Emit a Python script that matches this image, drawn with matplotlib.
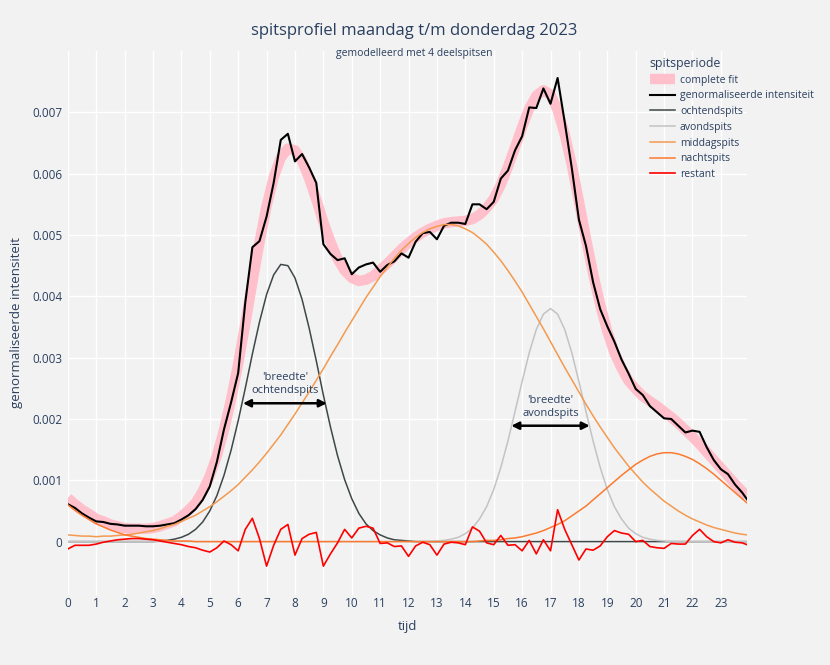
import numpy as np
import matplotlib
matplotlib.use('Agg')
import matplotlib.pyplot as plt
from matplotlib.ticker import FuncFormatter

plt.rcParams['font.family'] = ['Open Sans', 'DejaVu Sans']

# tijd in uren (kwartierwaarden), intensiteiten in eenheden van 1e-5
tijd = np.append(np.arange(0, 24, 0.25), 23.92)

ochtendspits = [0, 0, 0, 0, 0, 0, 0, 0, 0, 0, 0, 0,
                0, 1, 2, 4, 7, 12, 20, 32, 50, 75, 108, 149,
                197, 250, 306, 358, 403, 435, 452, 450, 430, 395, 348, 295,
                239, 187, 140, 101, 70, 46, 29, 18, 11, 6, 3, 2,
                1, 0, 0, 0, 0, 0, 0, 0, 0, 0, 0, 0,
                0, 0, 0, 0, 0, 0, 0, 0, 0, 0, 0, 0,
                0, 0, 0, 0, 0, 0, 0, 0, 0, 0, 0, 0,
                0, 0, 0, 0, 0, 0, 0, 0, 0, 0, 0, 0, 0]

avondspits = [0, 0, 0, 0, 0, 0, 0, 0, 0, 0, 0, 0,
              0, 0, 0, 0, 0, 0, 0, 0, 0, 0, 0, 0,
              0, 0, 0, 0, 0, 0, 0, 0, 0, 0, 0, 0,
              0, 0, 0, 0, 0, 0, 0, 0, 0, 0, 0, 0,
              0, 0, 0, 0, 1, 2, 4, 7, 13, 22, 37, 57,
              85, 121, 164, 212, 261, 308, 346, 371, 380, 371, 346, 308,
              261, 212, 164, 121, 85, 57, 37, 22, 13, 7, 4, 2,
              1, 0, 0, 0, 0, 0, 0, 0, 0, 0, 0, 0, 0]

middagspits = [11, 10, 9, 9, 8, 9, 9, 10, 11, 12, 14, 16,
               18, 21, 25, 28, 33, 38, 43, 50, 57, 65, 74, 83,
               93, 105, 117, 130, 144, 159, 174, 191, 208, 226, 244, 263,
               282, 302, 321, 341, 360, 379, 398, 415, 432, 447, 462, 475,
               486, 496, 504, 510, 514, 517, 517, 515, 510, 504, 495, 485,
               472, 458, 442, 425, 407, 387, 367, 347, 326, 305, 284, 264,
               244, 224, 205, 187, 170, 153, 138, 123, 110, 97, 86, 76,
               66, 58, 50, 43, 37, 32, 27, 23, 20, 17, 14, 12, 11]

nachtspits = [60, 51, 43, 36, 29, 24, 19, 15, 11, 9, 7, 5,
              4, 3, 2, 1, 1, 1, 0, 0, 0, 0, 0, 0,
              0, 0, 0, 0, 0, 0, 0, 0, 0, 0, 0, 0,
              0, 0, 0, 0, 0, 0, 0, 0, 0, 0, 0, 0,
              0, 0, 0, 0, 0, 0, 0, 0, 0, 0, 1, 2,
              2, 3, 5, 6, 8, 11, 14, 18, 23, 28, 34, 42,
              50, 58, 68, 78, 88, 98, 108, 117, 126, 133, 139, 143,
              145, 145, 143, 139, 134, 127, 119, 110, 100, 90, 80, 70, 63]

complete_fit = [71, 61, 52, 45, 37, 33, 28, 25, 22, 21, 21, 21,
                22, 25, 29, 33, 41, 51, 63, 82, 107, 140, 182, 232,
                290, 355, 423, 488, 547, 594, 626, 641, 638, 621, 592, 558,
                521, 489, 461, 442, 430, 425, 427, 433, 443, 453, 465, 477,
                487, 496, 504, 510, 515, 519, 521, 522, 523, 526, 533, 544,
                559, 582, 611, 643, 676, 706, 727, 736, 729, 704, 664, 614,
                555, 494, 437, 386, 343, 308, 283, 262, 249, 237, 229, 221,
                212, 203, 193, 182, 171, 159, 146, 133, 120, 107, 94, 82, 74]

intensiteit = [61, 55, 46, 39, 33, 32, 29, 28, 26, 26, 26, 25,
               25, 26, 28, 30, 36, 43, 53, 68, 90, 130, 183, 227,
               275, 390, 480, 490, 530, 585, 655, 665, 620, 632, 610, 585,
               485, 469, 459, 462, 436, 447, 452, 455, 440, 451, 457, 470,
               463, 489, 503, 505, 493, 515, 520, 520, 518, 550, 550, 542,
               554, 592, 605, 638, 661, 708, 707, 739, 714, 756, 684, 609,
               525, 482, 423, 379, 351, 326, 297, 274, 249, 239, 221, 211,
               201, 200, 189, 178, 181, 179, 154, 133, 118, 110, 93, 80, 69]

restant = [-12, -6, -6, -6, -4, -1, 1, 3, 4, 5, 5, 4,
           3, 1, -1, -3, -5, -8, -10, -14, -17, -10, 1, -5,
           -15, 20, 38, 5, -40, -6, 20, 28, -22, 5, 12, 15,
           -40, -20, -2, 20, 6, 22, 25, 22, -3, -2, -8, -7,
           -24, -7, -1, -5, -22, -4, -1, -2, -5, 24, 17, -2,
           -5, 10, -6, -5, -15, 2, -20, 3, -15, 52, 20, -5,
           -30, -12, -14, -7, 8, 18, 14, 12, 0, 2, -8, -10,
           -11, -3, -4, -4, 10, 20, 8, 0, -2, 3, -1, -2, -5]

schaal = 1e-5
y_ticks = [0, 0.001, 0.002, 0.003, 0.004, 0.005, 0.006, 0.007]
x_ticks = list(range(24))

tekstkleur = '#2a3f5f'
achtergrond = '#f2f2f2'

fig = plt.figure(figsize=(8.3, 6.65), dpi=100, facecolor=achtergrond)
ax = fig.add_axes([0.0817, 0.1053, 0.8183, 0.818], facecolor=achtergrond)

ax.plot(tijd, np.array(complete_fit) * schaal, color='#ffc0cb', lw=7.5,
        solid_capstyle='butt', label='complete fit')
ax.plot(tijd, np.array(intensiteit) * schaal, color='black', lw=1.5,
        label='genormaliseerde intensiteit')
ax.plot(tijd, np.array(ochtendspits) * schaal, color='#3e4848', lw=1.1,
        label='ochtendspits')
ax.plot(tijd, np.array(avondspits) * schaal, color='#c3c3c3', lw=1.1,
        label='avondspits')
ax.plot(tijd, np.array(middagspits) * schaal, color='#f39a50', lw=1.1,
        label='middagspits')
ax.plot(tijd, np.array(nachtspits) * schaal, color='#fb7a30', lw=1.1,
        label='nachtspits')
ax.plot(tijd, np.array(restant) * schaal, color='#ff0000', lw=1.2,
        label='restant')

ax.set_xlim(0, 23.92)
ax.set_ylim(-0.00087, 0.0080)
ax.set_xticks(x_ticks)
ax.set_yticks(y_ticks)
ax.yaxis.set_major_formatter(FuncFormatter(lambda v, p: '0' if v == 0 else f'{v:.3f}'))
ax.grid(True, color='white', lw=1.0)
ax.set_axisbelow(True)
for s in ax.spines.values():
    s.set_visible(False)
ax.tick_params(length=0, labelsize=8.5, labelcolor=tekstkleur)
ax.tick_params(axis='y', pad=4)
ax.tick_params(axis='x', pad=1.5)

ax.set_xlabel('tijd', fontsize=9.5, color=tekstkleur, labelpad=7)
ax.set_ylabel('genormaliseerde intensiteit', fontsize=9.5, color=tekstkleur, labelpad=6.5)

# breedte-pijlen
for x0, x1, yy, tekst in [(6.17, 9.12, 0.002256, "'breedte'\nochtendspits"),
                          (15.62, 18.38, 0.00189, "'breedte'\navondspits")]:
    ax.annotate('', xy=(x0, yy), xytext=(x1, yy),
                arrowprops=dict(arrowstyle='<|-|>', color='black', lw=1.8,
                                mutation_scale=11, shrinkA=0, shrinkB=0))
    ax.annotate(tekst, xy=((x0 + x1) / 2, yy), xytext=(0, 5), textcoords='offset points',
                ha='center', va='bottom', fontsize=8, color=tekstkleur, linespacing=1.25)

fig.text(0.4988, 0.953, 'spitsprofiel maandag t/m donderdag 2023', ha='center', va='center',
         fontsize=12, color=tekstkleur)
fig.text(0.4988, 0.92, 'gemodelleerd met 4 deelspitsen', ha='center', va='center',
         fontsize=7.5, color=tekstkleur)

leg = ax.legend(loc='upper left', bbox_to_anchor=(0.7765, 0.922), bbox_transform=fig.transFigure,
                frameon=False, fontsize=7.5, title='spitsperiode', title_fontsize=8.8,
                handlelength=2.4, labelspacing=0.45, borderpad=0, handletextpad=0.5,
                alignment='left')
for t in leg.get_texts():
    t.set_color(tekstkleur)
leg.get_title().set_color(tekstkleur)

fig.savefig('out.png', dpi=100, facecolor=achtergrond)
